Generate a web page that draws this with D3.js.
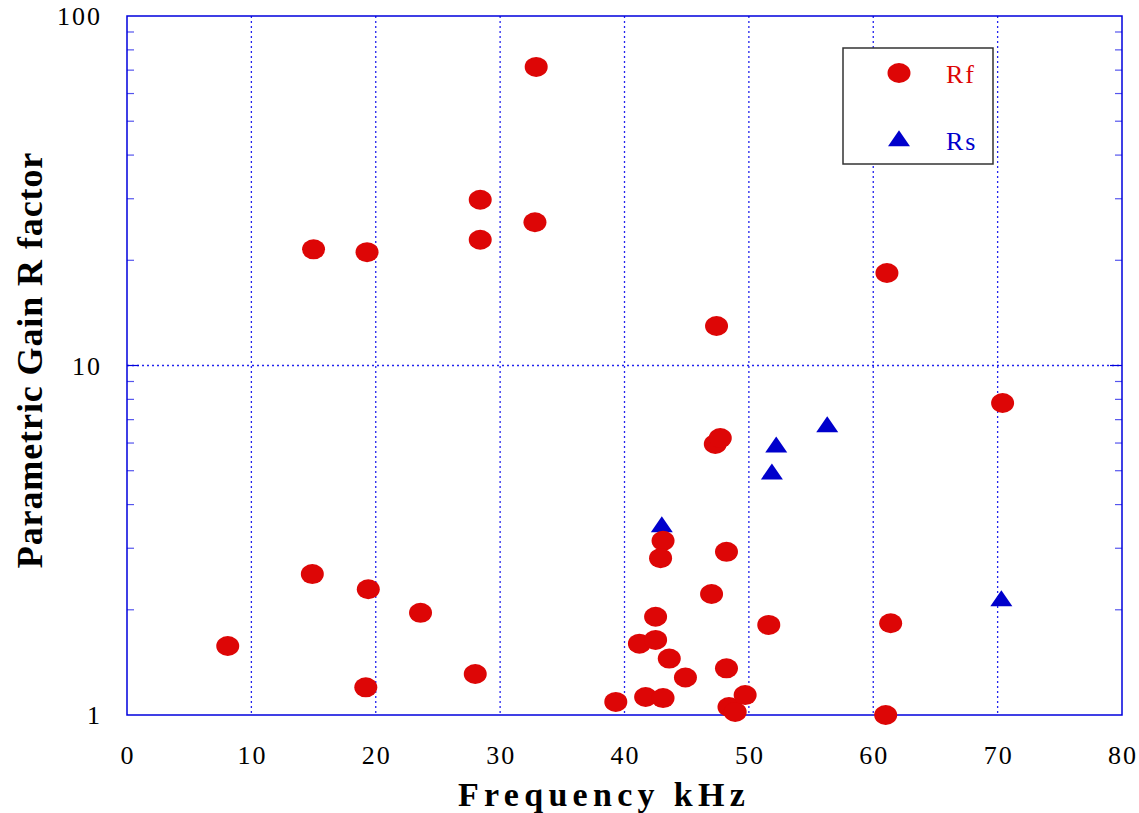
<!DOCTYPE html>
<html>
<head>
<meta charset="utf-8">
<script src="https://cdn.jsdelivr.net/npm/d3@7"></script>
<style>
  html, body { margin: 0; padding: 0; background: #fff; }
  svg { display: block; }
  text { font-family: "Liberation Serif", "Times New Roman", serif; }
</style>
</head>
<body>
<svg id="chart" width="1139" height="813"></svg>
<script>
// Rf measurements: frequency (kHz) and gain factor
const rfFreq = [8.1, 15.0, 19.3, 14.9, 19.4, 19.2, 23.6, 28.0, 28.4, 28.4, 32.9, 32.8,
  39.3, 41.7, 43.1, 41.2, 42.5, 42.5, 43.6, 44.9, 43.1, 42.9, 47.0, 48.2, 48.2, 48.4,
  48.9, 49.7, 47.4, 47.3, 47.7, 51.6, 61.1, 61.4, 61.0, 70.4];
const rfGain = [1.575, 21.5, 21.1, 2.53, 2.29, 1.20, 1.96, 1.31, 29.8, 22.9, 71.5, 25.7,
  1.09, 1.126, 1.118, 1.60, 1.64, 1.91, 1.45, 1.28, 3.15, 2.81, 2.22, 2.93, 1.36, 1.054,
  1.02, 1.14, 12.97, 5.96, 6.20, 1.81, 18.4, 1.83, 1.0, 7.81];

// Rs measurements
const rsFreq = [43.0, 52.2, 51.85, 56.3, 70.3];
const rsGain = [3.45, 5.84, 4.89, 6.67, 2.12];

const xTicks = [0, 10, 20, 30, 40, 50, 60, 70, 80];
const yTicks = [1, 10, 100];
const yMinor = [2, 3, 4, 5, 6, 7, 8, 9, 20, 30, 40, 50, 60, 70, 80, 90];

const svg = d3.select("#chart");
const L = 127, R = 1122, T = 16, B = 715;
const blue = "#0000dd";
const red = "#dd0606";
const triBlue = "#0000cc";

const x = d3.scaleLinear().domain([0, 80]).range([L, R]);
const y = d3.scaleLog().domain([1, 100]).range([B, T]);

// grid lines
const grid = svg.append("g");
grid.selectAll("line.vx").data(xTicks.filter(d => d > 0 && d < 80)).join("line")
  .attr("x1", d => x(d)).attr("x2", d => x(d))
  .attr("y1", T).attr("y2", B)
  .attr("stroke", "#2222ee").attr("stroke-width", 1.3)
  .attr("stroke-dasharray", "2,3");
grid.selectAll("line.hy").data([10]).join("line")
  .attr("x1", L).attr("x2", R)
  .attr("y1", d => y(d)).attr("y2", d => y(d))
  .attr("stroke", "#2222ee").attr("stroke-width", 1.3)
  .attr("stroke-dasharray", "2,3");

// minor ticks on left and right axes
const ticks = svg.append("g");
ticks.selectAll("line.lm").data(yMinor).join("line")
  .attr("x1", L).attr("x2", L + 7)
  .attr("y1", d => y(d)).attr("y2", d => y(d))
  .attr("stroke", "#5555ee").attr("stroke-width", 1.2);
ticks.selectAll("line.rm").data(yMinor).join("line")
  .attr("x1", R - 7).attr("x2", R)
  .attr("y1", d => y(d)).attr("y2", d => y(d))
  .attr("stroke", "#5555ee").attr("stroke-width", 1.2);
ticks.selectAll("line.lM").data([10]).join("line")
  .attr("x1", L).attr("x2", L + 12)
  .attr("y1", d => y(d)).attr("y2", d => y(d))
  .attr("stroke", blue).attr("stroke-width", 1.2);
ticks.selectAll("line.rM").data([10]).join("line")
  .attr("x1", R - 12).attr("x2", R)
  .attr("y1", d => y(d)).attr("y2", d => y(d))
  .attr("stroke", blue).attr("stroke-width", 1.2);

// frame
svg.append("rect").attr("x", L).attr("y", T).attr("width", R - L).attr("height", B - T)
  .attr("fill", "none").attr("stroke", blue).attr("stroke-width", 1.5);

// tick labels
svg.append("g").selectAll("text").data(xTicks).join("text")
  .attr("x", d => x(d) + 1).attr("y", 764)
  .attr("text-anchor", "middle")
  .attr("font-size", 26).attr("letter-spacing", 2)
  .text(d => d);
svg.append("g").selectAll("text").data(yTicks).join("text")
  .attr("x", 102).attr("y", d => y(d) + 9)
  .attr("text-anchor", "end")
  .attr("font-size", 26).attr("letter-spacing", 2)
  .text(d => d);

// axis titles
svg.append("text")
  .attr("x", 604).attr("y", 806)
  .attr("text-anchor", "middle")
  .attr("font-size", 34).attr("font-weight", "bold").attr("letter-spacing", 5.3)
  .text("Frequency kHz");
svg.append("text")
  .attr("transform", "translate(42,360) rotate(-90)")
  .attr("text-anchor", "middle")
  .attr("font-size", 36).attr("font-weight", "bold").attr("letter-spacing", 0.9)
  .text("Parametric Gain R factor");

// triangle marker shape, centred on its centroid
const triW = 22, triH = 16;
const triPath = `M0,${-triH * 2 / 3}L${triW / 2},${triH / 3}L${-triW / 2},${triH / 3}Z`;

// Rs series
svg.append("g").selectAll("path").data(rsFreq).join("path")
  .attr("d", triPath)
  .attr("transform", (d, i) => `translate(${x(d)},${y(rsGain[i])})`)
  .attr("fill", triBlue);

// Rf series
svg.append("g").selectAll("ellipse").data(rfFreq).join("ellipse")
  .attr("cx", d => x(d)).attr("cy", (d, i) => y(rfGain[i]))
  .attr("rx", 11.5).attr("ry", 10)
  .attr("fill", red);

// legend
const lg = svg.append("g");
lg.append("rect").attr("x", 843).attr("y", 48).attr("width", 150).attr("height", 116)
  .attr("fill", "#fff").attr("stroke", "#333").attr("stroke-width", 1.5);
lg.append("ellipse").attr("cx", 899).attr("cy", 73).attr("rx", 11.5).attr("ry", 10).attr("fill", red);
lg.append("text").attr("x", 946).attr("y", 83).attr("font-size", 26)
  .attr("letter-spacing", 2).attr("fill", red).text("Rf");
lg.append("path").attr("d", triPath).attr("transform", "translate(899,141)").attr("fill", triBlue);
lg.append("text").attr("x", 946).attr("y", 150).attr("font-size", 26)
  .attr("letter-spacing", 2).attr("fill", triBlue).text("Rs");
</script>
</body>
</html>
